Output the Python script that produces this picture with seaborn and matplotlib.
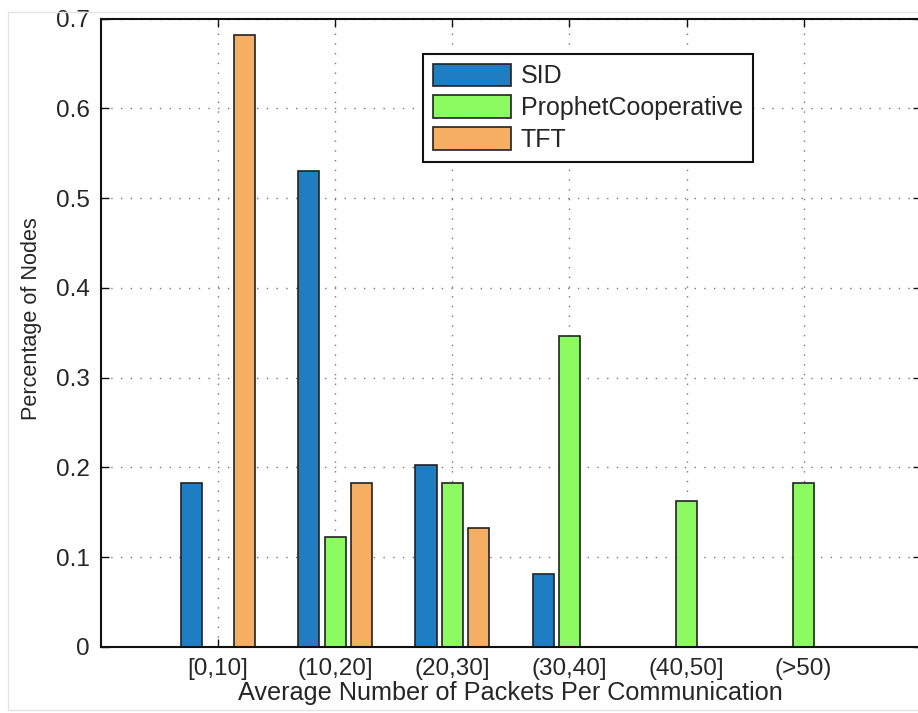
import matplotlib
matplotlib.use("Agg")
import matplotlib.pyplot as plt
import pandas as pd
import seaborn as sns
from matplotlib.patches import Patch, Rectangle

# bins on the x axis
categories = ["[0,10]", "(10,20]", "(20,30]", "(30,40]", "(40,50]", "(>50)"]
series = ["SID", "ProphetCooperative", "TFT"]

# fraction of nodes per bin
sid = [0.183, 0.530, 0.203, 0.081, 0.0, 0.0]
prophet = [0.0, 0.122, 0.183, 0.346, 0.163, 0.183]
tft = [0.682, 0.183, 0.132, 0.0, 0.0, 0.0]

colors = ["#1f7ec3", "#8cfb62", "#f5ae62"]


def main():
    sns.set_theme(style="white")
    plt.rcParams["font.family"] = ["Liberation Sans", "DejaVu Sans"]

    rows = []
    for name, vals in zip(series, [sid, prophet, tft]):
        for cat, v in zip(categories, vals):
            rows.append({"bin": cat, "series": name, "value": v})
    df = pd.DataFrame(rows)

    fig = plt.figure(figsize=(9.18, 7.13), dpi=100)
    # faint frame around the figure, as in the screenshot
    fig.patches.append(Rectangle((8 / 918, 3 / 713), 1.0, 1 - 15 / 713,
                                 transform=fig.transFigure, fill=False,
                                 edgecolor="#e4e4e4", linewidth=1.0, zorder=0))
    ax = fig.add_axes([0.110, 0.0926, 0.893, 0.8814])

    sns.barplot(data=df, x="bin", y="value", hue="series", order=categories,
                hue_order=series, palette=colors, saturation=1, width=0.675,
                gap=0.2, edgecolor="#222222", linewidth=1.2, errorbar=None,
                ax=ax, legend=False)

    ax.set_xlim(-1, 6)
    ax.set_ylim(0, 0.7)
    ax.set_yticks([0, 0.1, 0.2, 0.3, 0.4, 0.5, 0.6, 0.7])
    ax.set_yticklabels(["0", "0.1", "0.2", "0.3", "0.4", "0.5", "0.6", "0.7"])

    ax.grid(True, linestyle=(0, (1, 6)), color="#777777", linewidth=1.0)
    ax.set_axisbelow(True)
    for s in ax.spines.values():
        s.set_visible(True)
        s.set_color("#111111")
        s.set_linewidth(1.5)
    ax.tick_params(axis="both", which="major", direction="in", length=6,
                   width=1.0, color="#111111", labelsize=17.5, pad=8,
                   top=True, right=True, bottom=True, left=True)

    ax.set_xlabel("Average Number of Packets Per Communication", fontsize=18.2, labelpad=1)
    ax.set_ylabel("Percentage of Nodes", fontsize=15.6)
    ax.yaxis.set_label_coords(-0.072, 0.523)

    handles = [Patch(facecolor=c, edgecolor="#222222", linewidth=1.2) for c in colors]
    leg = ax.legend(handles, series, loc="upper left", bbox_to_anchor=(0.393, 0.944),
                    fontsize=18, frameon=True, fancybox=False, framealpha=1,
                    edgecolor="#111111", handlelength=3.1, handleheight=1.0,
                    labelspacing=0.28, handletextpad=0.4, borderpad=0.4,
                    borderaxespad=0)
    leg.get_frame().set_linewidth(1.5)

    fig.savefig("out.png", dpi=100)
    plt.close(fig)


if __name__ == "__main__":
    main()
